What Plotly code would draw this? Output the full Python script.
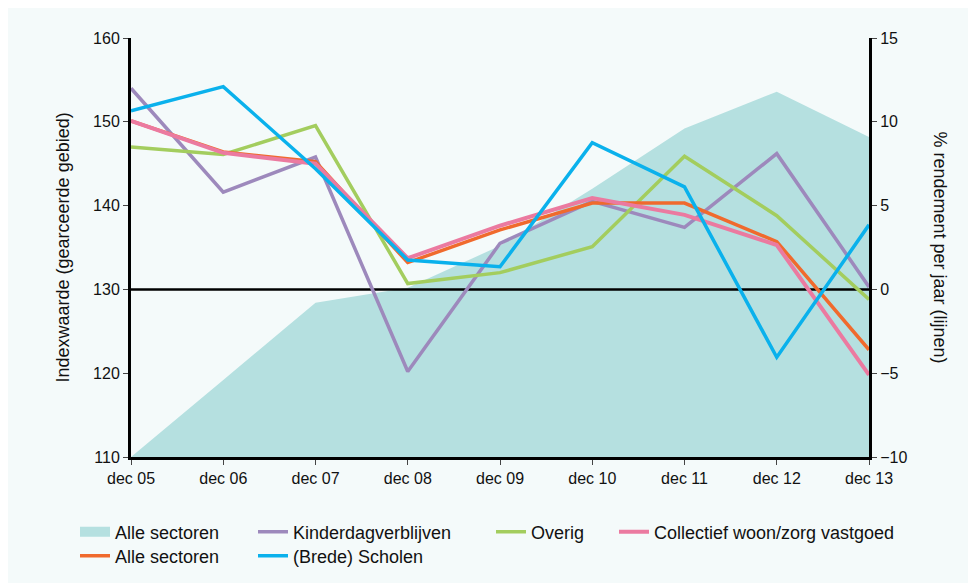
import plotly.graph_objects as go

# ---- data ----
categories = ["dec 05", "dec 06", "dec 07", "dec 08", "dec 09", "dec 10", "dec 11", "dec 12", "dec 13"]
index_alle = [110.0, 119.2, 128.4, 130.2, 135.2, 142.0, 149.2, 153.6, 148.2]  # left axis (area)
rend_kinder = [12.0, 5.8, 7.9, -4.9, 2.75, 5.25, 3.7, 8.1, 0.15]
rend_overig = [8.5, 8.05, 9.77, 0.35, 1.0, 2.55, 7.95, 4.4, -0.6]
rend_alle = [10.05, 8.2, 7.62, 1.6, 3.55, 5.15, 5.15, 2.85, -3.6]
rend_collectief = [10.05, 8.15, 7.5, 1.86, 3.8, 5.45, 4.45, 2.65, -5.1]
rend_scholen = [10.65, 12.1, 7.2, 1.75, 1.35, 8.75, 6.12, -4.05, 3.85]
baseline = [0, 0]

FONT = "Liberation Sans, Arial, sans-serif"
BG = "#F4FAFA"
AREA = "#B5E0E0"

fig = go.Figure()

fig.add_trace(go.Scatter(x=categories, y=index_alle, name="Alle sectoren", mode="none",
                         fill="tozeroy", fillcolor=AREA, yaxis="y", showlegend=False))
# legend swatch for the area (no data of its own)
fig.add_trace(go.Scatter(x=[None], y=[None], name="Alle sectoren", mode="lines",
                         line=dict(color=AREA, width=16), yaxis="y", legend="legend",
                         showlegend=True, hoverinfo="skip"))
# zero reference line of the right axis, above the area but under the lines
fig.add_trace(go.Scatter(x=[categories[0], categories[-1]], y=baseline, mode="lines",
                         line=dict(color="#000", width=2.5), yaxis="y2", showlegend=False,
                         hoverinfo="skip"))
fig.add_trace(go.Scatter(x=categories, y=rend_kinder, name="Kinderdagverblijven", mode="lines",
                         line=dict(color="#9D89BC", width=3.5), yaxis="y2", legend="legend2"))
fig.add_trace(go.Scatter(x=categories, y=rend_overig, name="Overig", mode="lines",
                         line=dict(color="#A3CD5E", width=3.5), yaxis="y2", legend="legend3"))
fig.add_trace(go.Scatter(x=categories, y=rend_alle, name="Alle sectoren", mode="lines",
                         line=dict(color="#F06A2D", width=3.5), yaxis="y2", legend="legend5"))
fig.add_trace(go.Scatter(x=categories, y=rend_collectief, name="Collectief woon/zorg vastgoed", mode="lines",
                         line=dict(color="#EB7AA0", width=4), yaxis="y2", legend="legend4"))
fig.add_trace(go.Scatter(x=categories, y=rend_scholen, name="(Brede) Scholen", mode="lines",
                         line=dict(color="#0AB1EC", width=3.5), yaxis="y2", legend="legend6"))

OFF = 8  # page body margin offset
W, H = 976 - OFF, 583 - OFF
L, T = 131 - OFF, 38 - OFF
pw, ph = 738, 419
R = W - L - pw
B = H - T - ph


def px_x(px):
    return (px - OFF - L) / pw


def px_y(py):
    return (T + ph - (py - OFF)) / ph


def leg(xpx, ypx):
    return dict(x=px_x(xpx), y=px_y(ypx), xanchor="left", yanchor="middle", orientation="h",
                font=dict(family=FONT, size=18, color="#111"), bgcolor="rgba(0,0,0,0)",
                borderwidth=0, tracegroupgap=0)


axis_common = dict(showgrid=False, ticks="outside", ticklen=5, tickwidth=1, tickcolor="#444",
                   tickfont=dict(family=FONT, size=16, color="#111"), showline=True,
                   linecolor="#000", linewidth=3)

fig.update_layout(
    width=W, height=H,
    margin=dict(l=L, r=R, t=T, b=B, autoexpand=False),
    paper_bgcolor=BG, plot_bgcolor=BG,
    font=dict(family=FONT, color="#111"),
    showlegend=True,
    xaxis=dict(type="category", range=[0, 8], **axis_common),
    yaxis=dict(range=[110, 160], dtick=10, zeroline=False, **axis_common),
    yaxis2=dict(range=[-10, 15], dtick=5, overlaying="y", side="right", zeroline=False,
                **axis_common),
    legend=leg(75, 532),
    legend2=leg(253, 532),
    legend3=leg(491, 532),
    legend4=leg(614, 532),
    legend5=leg(75, 556),
    legend6=leg(253, 556),
    annotations=[
        dict(text="Indexwaarde (gearceerde gebied)", textangle=-90, xref="paper", yref="paper",
             x=px_x(62), y=0.5, xanchor="center", yanchor="middle", showarrow=False,
             font=dict(family=FONT, size=18, color="#111")),
        dict(text="% rendement per jaar (lijnen)", textangle=90, xref="paper", yref="paper",
             x=px_x(940), y=0.5, xanchor="center", yanchor="middle", showarrow=False,
             font=dict(family=FONT, size=18, color="#111")),
    ],
)

fig.write_html("out.html")
